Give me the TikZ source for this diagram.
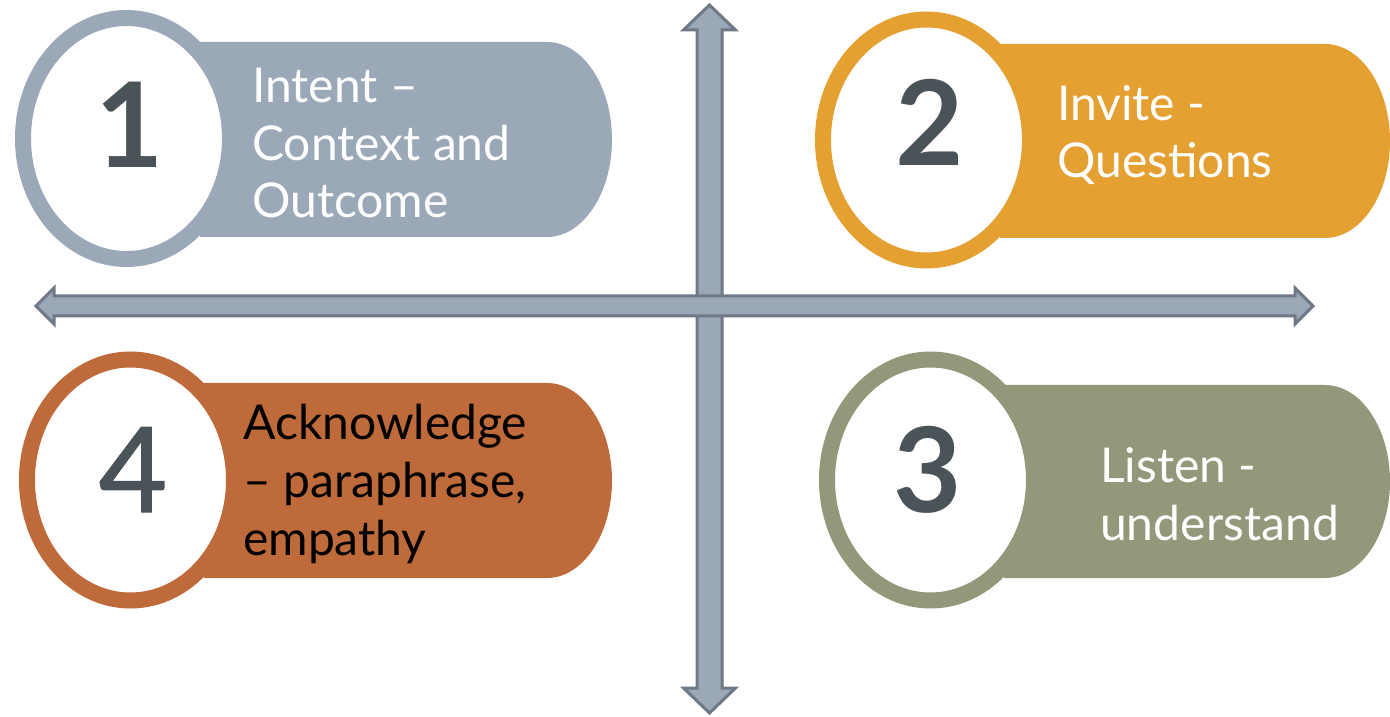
\documentclass[tikz,border=0pt]{standalone}
\usepackage{fontspec}
\setmainfont{Lato}
\newfontfamily\medfont[FakeBold=1.2]{Lato}
\usetikzlibrary{shapes.geometric}
\definecolor{cgray}{HTML}{9BA8B7}
\definecolor{cgrayline}{HTML}{6F7885}
\definecolor{corange}{HTML}{E4A131}
\definecolor{crust}{HTML}{BE6A3A}
\definecolor{colive}{HTML}{92987A}
\definecolor{cnum}{HTML}{4A5357}
\tikzset{
  ring/.style={ellipse, draw=#1, line width=16pt, fill=white, minimum width=207pt, minimum height=241pt, inner sep=0pt},
  numlabel/.style={anchor=base, inner sep=0pt, text=cnum, font=\fontsize{118}{120}\selectfont\bfseries},
  numlabelreg/.style={anchor=base, inner sep=0pt, text=cnum, font=\medfont\fontsize{118}{120}\selectfont},
  itemtext/.style={anchor=base west, inner sep=0pt, align=left, font=\fontsize{48}{57.6}\selectfont},
  arrowbody/.style={fill=cgray, draw=cgrayline, line width=3pt, line join=miter}
}
\begin{document}
\begin{tikzpicture}[x=1pt,y=1pt]
\useasboundingbox (0,0) rectangle (1390,716);
% vertical double arrow
\draw[arrowbody] (709.5,711) -- (735.5,686) -- (722,686) -- (722,28) -- (735.5,28) -- (709.5,3)
  -- (683.5,28) -- (697,28) -- (697,686) -- (683.5,686) -- cycle;
% horizontal double arrow
\draw[arrowbody] (36,410) -- (54,428) -- (54,420) -- (1295,420) -- (1295,428) -- (1313,410)
  -- (1295,392) -- (1295,400) -- (54,400) -- (54,392) -- cycle;
% item 1
\fill[cgray] (200,479) -- (547,479) arc[start angle=-90, end angle=90, x radius=65, y radius=97.5] -- (200,674) -- cycle;
\node[ring=cgray] (e1) at (126.5,577.5) {};
\node[numlabel] (n1) at (130,548) {1};
\node[itemtext, text=white] (t1) at (252,498) {Intent –\\Context and\\Outcome};
% item 2
\fill[corange] (1000,478) -- (1325,478) arc[start angle=-90, end angle=90, x radius=65, y radius=97] -- (1000,672) -- cycle;
\node[ring=corange] (e2) at (926.5,576) {};
\node[numlabel] (n2) at (930,550) {2};
\node[itemtext, text=white] (t2) at (1057,538) {Invite -\\Questions};
% item 4
\fill[crust] (204,138) -- (547,138) arc[start angle=-90, end angle=90, x radius=65, y radius=97.5] -- (204,333) -- cycle;
\node[ring=crust] (e4) at (130.5,236) {};
\node[numlabelreg] (n4) at (133,204) {4};
\node[itemtext, text=black] (t4) at (243,161) {Acknowledge\\– paraphrase,\\empathy};
% item 3
\fill[colive] (1004,138) -- (1325,138) arc[start angle=-90, end angle=90, x radius=65, y radius=96.5] -- (1004,331) -- cycle;
\node[ring=colive] (e3) at (930.5,236) {};
\node[numlabel] (n3) at (928,204) {3};
\node[itemtext, text=white] (t3) at (1100,176) {Listen -\\understand};
\end{tikzpicture}
\end{document}
